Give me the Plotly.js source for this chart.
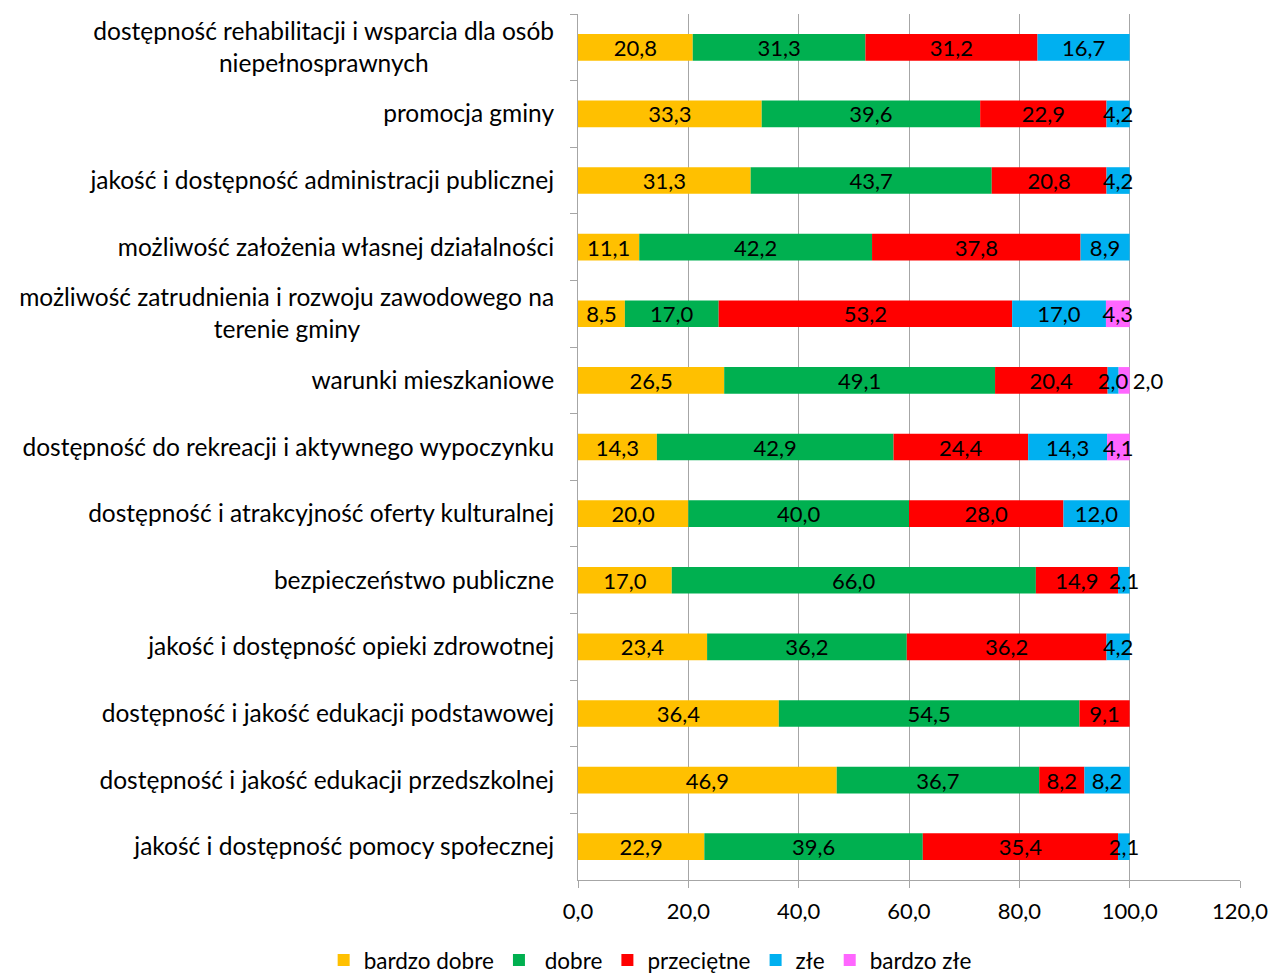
<!DOCTYPE html>
<html>
<head>
<meta charset="utf-8">
<script src="https://cdn.plot.ly/plotly-3.0.1.min.js"></script>
<style>html,body{margin:0;padding:0;background:#fff;} #chart{width:1271px;height:974px;}</style>
</head>
<body>
<div id="chart"></div>
<script>
const categories = [
  "dostępność rehabilitacji i wsparcia dla osób<br>niepełnosprawnych",
  "promocja gminy",
  "jakość i dostępność administracji publicznej",
  "możliwość założenia własnej działalności",
  "możliwość zatrudnienia i rozwoju zawodowego na<br>terenie gminy",
  "warunki mieszkaniowe",
  "dostępność do rekreacji i aktywnego wypoczynku",
  "dostępność i atrakcyjność oferty kulturalnej",
  "bezpieczeństwo publiczne",
  "jakość i dostępność opieki zdrowotnej",
  "dostępność i jakość edukacji podstawowej",
  "dostępność i jakość edukacji przedszkolnej",
  "jakość i dostępność pomocy społecznej"
];
const seriesNames = ["bardzo dobre", "\u00A0dobre", "przeciętne", "złe", "bardzo złe"];
const bardzoDobre = [20.8, 33.3, 31.3, 11.1, 8.5, 26.5, 14.3, 20.0, 17.0, 23.4, 36.4, 46.9, 22.9];
const dobre       = [31.3, 39.6, 43.7, 42.2, 17.0, 49.1, 42.9, 40.0, 66.0, 36.2, 54.5, 36.7, 39.6];
const przecietne  = [31.2, 22.9, 20.8, 37.8, 53.2, 20.4, 24.4, 28.0, 14.9, 36.2, 9.1, 8.2, 35.4];
const zle         = [16.7, 4.2, 4.2, 8.9, 17.0, 2.0, 14.3, 12.0, 2.1, 4.2, null, 8.2, 2.1];
const bardzoZle   = [null, null, null, null, 4.3, 2.0, 4.1, null, null, null, null, null, null];
const xTicks = [0, 20, 40, 60, 80, 100, 120];

const colors = ["#FFC000", "#00B050", "#FF0000", "#00B0F0", "#FF66FF"];
const FONT = "Lato, 'Open Sans', sans-serif";
const FS = 22;       // data labels, x ticks
const FS_CAT = 24.5; // category labels
const FS_LEG = 22.5;

// centre multi-line labels (Excel-style) using non-breaking space padding
const cv = document.createElement('canvas').getContext('2d');
cv.font = FS_CAT + "px Lato";
const nbspW = cv.measureText("\u00A0").width || FS_CAT * 0.25;
function centred(label) {
  const lines = label.split("<br>");
  if (lines.length < 2) return label;
  const widths = lines.map(l => cv.measureText(l).width);
  const maxW = Math.max(...widths);
  return lines.map((l, i) => l + "\u00A0".repeat(Math.max(0, Math.round((maxW - widths[i]) / 2 / nbspW)))).join("<br>");
}
const yLabels = categories.map(centred);

const allSeries = [bardzoDobre, dobre, przecietne, zle, bardzoZle];
// stacking bases built from the series
const bases = [];
let running = categories.map(() => 0);
allSeries.forEach(vals => {
  bases.push(running.slice());
  running = running.map((r, i) => r + (vals[i] || 0));
});

// bar rectangles (legend entries)
const barTraces = allSeries.map((vals, k) => ({
  type: "bar",
  orientation: "h",
  name: seriesNames[k],
  y: yLabels,
  x: vals,
  base: bases[k],
  marker: {color: colors[k], line: {width: 0}},
  textposition: "none",
  hoverinfo: "skip"
}));

// value labels drawn above all bars
const textTraces = allSeries.map((vals, k) => ({
  type: "bar",
  orientation: "h",
  showlegend: false,
  y: yLabels,
  x: vals,
  base: bases[k],
  marker: {color: "rgba(0,0,0,0)", line: {width: 0}},
  texttemplate: "%{x:.1f}",
  textposition: vals.map((v, i) => (k === 4 && i === 5) ? "outside" : "inside"),
  textangle: 0,
  insidetextanchor: "middle",
  constraintext: "none",
  cliponaxis: false,
  textfont: {family: FONT, size: FS, color: "#000"},
  insidetextfont: {family: FONT, size: FS, color: "#000"},
  outsidetextfont: {family: FONT, size: FS, color: "#000"},
  hoverinfo: "skip"
}));

const layout = {
  width: 1271, height: 974,
  margin: {l: 578, r: 31, t: 14, b: 94, autoexpand: false},
  paper_bgcolor: "#fff", plot_bgcolor: "#fff",
  barmode: "overlay",
  bargap: 0.6,
  separators: ", ",
  showlegend: true,
  font: {family: FONT, size: FS, color: "#000"},
  uniformtext: {mode: "show", minsize: FS},
  xaxis: {
    range: [0, 120],
    tickmode: "array", tickvals: xTicks, tickformat: ".1f",
    showgrid: true, gridcolor: "#A6A6A6", gridwidth: 1,
    zeroline: false,
    showline: true, linecolor: "#A6A6A6", linewidth: 1,
    ticks: "outside", ticklen: 7, tickcolor: "#A6A6A6",
    ticklabelstandoff: 5,
    tickfont: {family: FONT, size: FS, color: "#000"},
    automargin: false,
    fixedrange: true
  },
  yaxis: {
    type: "category",
    autorange: "reversed",
    showline: true, linecolor: "#A6A6A6", linewidth: 1,
    showgrid: false, zeroline: false,
    ticks: "outside", tickson: "boundaries", ticklen: 7, tickcolor: "#A6A6A6",
    ticklabelstandoff: 18,
    tickfont: {family: FONT, size: FS_CAT, color: "#000"},
    automargin: false,
    fixedrange: true
  },
  legend: {
    orientation: "h",
    x: 0.109, xanchor: "center",
    y: -0.068, yanchor: "top",
    font: {family: FONT, size: FS_LEG, color: "#000"},
    itemwidth: 30,
    traceorder: "normal"
  }
};

Plotly.newPlot("chart", barTraces.concat(textTraces), layout, {displayModeBar: false, staticPlot: true});
</script>
</body>
</html>
